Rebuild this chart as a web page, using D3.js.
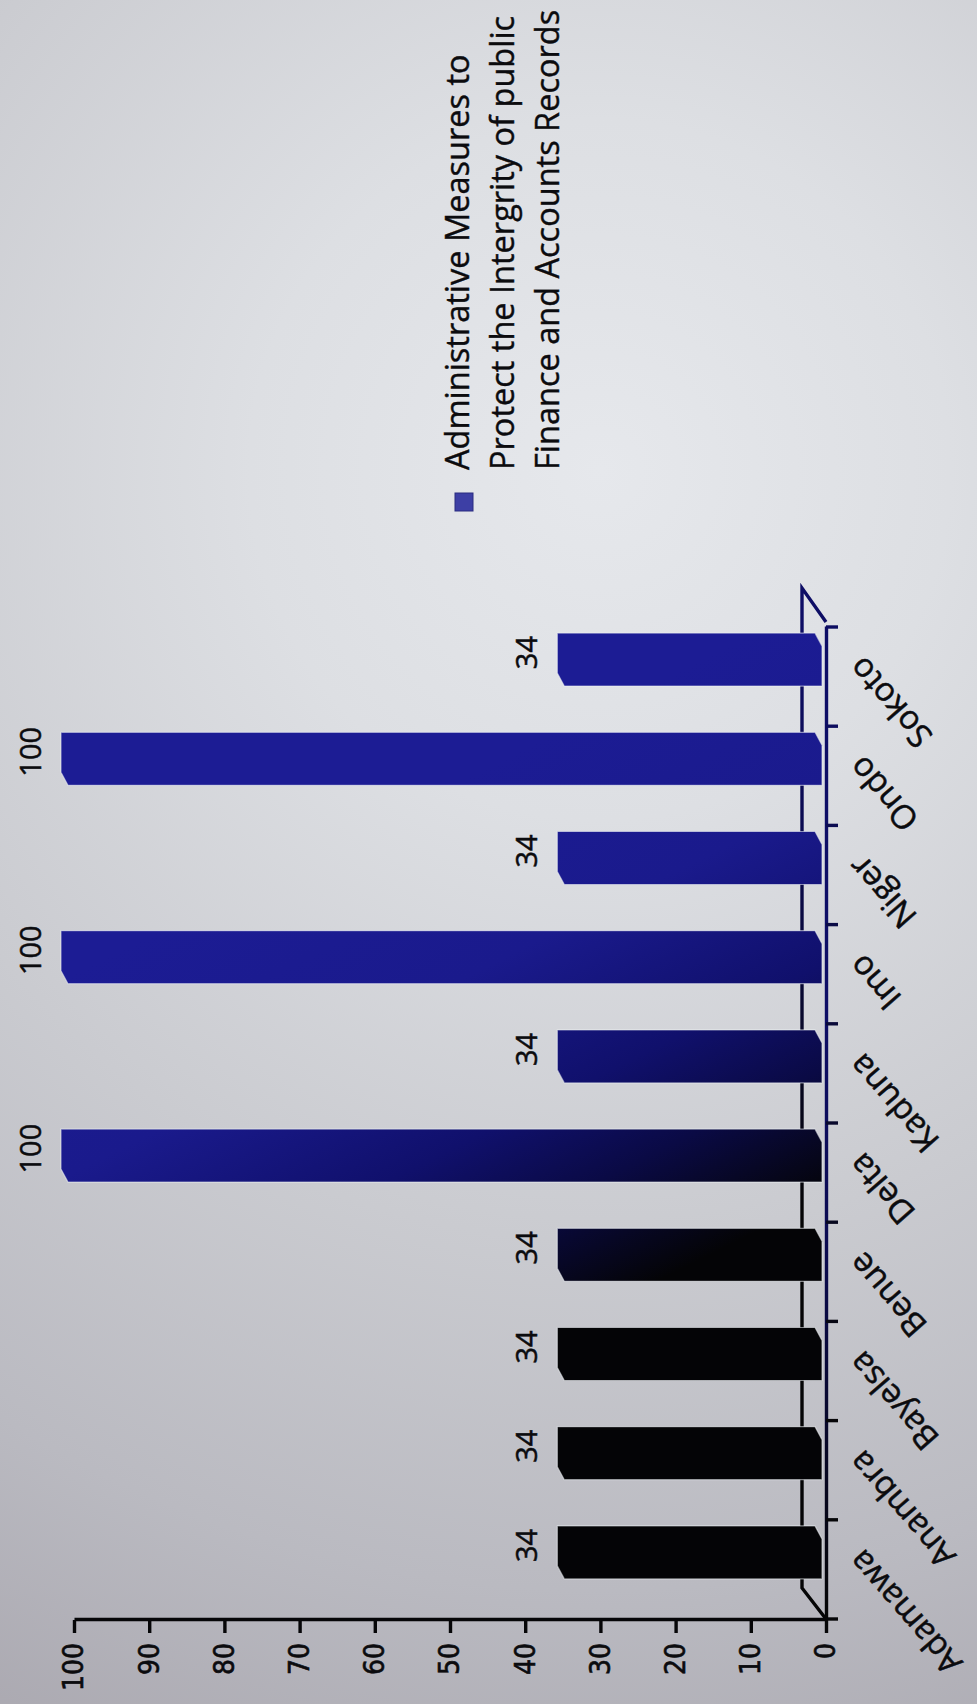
<!DOCTYPE html>
<html>
<head>
<meta charset="utf-8">
<script src="https://cdn.jsdelivr.net/npm/d3@7"></script>
<style>
  html, body { margin: 0; padding: 0; background: #c9cace; }
  svg { display: block; }
</style>
</head>
<body>
<svg id="chart" width="977" height="1704"></svg>
<script>
// States surveyed and share of respondents (%)
const categories = ["Adamawa", "Anambra", "Bayelsa", "Benue", "Delta", "Kaduna", "Imo", "Niger", "Ondo", "Sokoto"];
const values = [34, 34, 34, 34, 100, 34, 100, 34, 100, 34];
const valueTicks = [0, 10, 20, 30, 40, 50, 60, 70, 80, 90, 100];
const legendLines = ["Administrative Measures to", "Protect the Intergrity of public", "Finance and Accounts Records"];

const W = 977, H = 1704;
// The chart is laid out as an ordinary column chart in a frame of H x W,
// then the whole frame is turned a quarter turn counter-clockwise.

const svg = d3.select("#chart");
const defs = svg.append("defs");

// paper background
const bg = defs.append("radialGradient").attr("id", "paper")
  .attr("gradientUnits", "userSpaceOnUse")
  .attr("cx", 600).attr("cy", 470).attr("r", 1400);
[[0, "#e6e8ec"], [0.25, "#dddfe3"], [0.55, "#cacbd0"], [0.8, "#babac1"], [1, "#aaa8b0"]]
  .forEach(([o, c]) => bg.append("stop").attr("offset", o).attr("stop-color", c));
svg.append("rect").attr("width", W).attr("height", H).attr("fill", "url(#paper)");

const g = svg.append("g").attr("transform", `translate(0,${H}) rotate(-90)`);

// ink fades from black (left states) to blue (right states)
function inkGradient(id, stops) {
  const lg = defs.append("linearGradient").attr("id", id)
    .attr("gradientUnits", "userSpaceOnUse")
    .attr("x1", 484).attr("y1", 780).attr("x2", 964).attr("y2", 540);
  stops.forEach(([o, c]) => lg.append("stop").attr("offset", o).attr("stop-color", c));
}
inkGradient("barInk", [[0, "#040406"], [0.217, "#0a0a45"], [0.392, "#10106c"], [0.667, "#1a1a8c"], [1, "#1c1c94"]]);
inkGradient("lineInk", [[0, "#050506"], [0.3, "#08082a"], [0.6, "#0b0b50"], [1, "#0e0e66"]]);

const x = d3.scaleBand().domain(categories).range([85, 1077]).paddingInner(0).paddingOuter(0);
const y = d3.scaleLinear().domain([0, 100]).range([826, 74]);

const depth = { dx: 31, dy: -24 };   // floor depth
const barShift = { dx: 17, dy: -13 }; // bars sit half way into the floor
const barW = 53;
const cut = { dx: 13, dy: 7 };        // bevel on the bar corners
const ink = "#0b0b0e";
const textFont = "'Open Sans', 'Liberation Sans', sans-serif";

// floor outline
const x0 = x.range()[0], x1 = x.range()[1], yb = y(0);
g.append("path")
  .attr("d", `M${x0},${yb} L${x0 + depth.dx},${yb + depth.dy} L${x1 + depth.dx + 8},${yb + depth.dy} L${x1 + 5},${yb}`)
  .attr("fill", "none").attr("stroke", "url(#lineInk)").attr("stroke-width", 3.4)
  .attr("stroke-linejoin", "miter");

// bars
g.append("g").selectAll("path").data(categories).join("path")
  .attr("d", (c, i) => {
    const l = x(c) + x.bandwidth() / 2 - barW / 2 + barShift.dx;
    const r = l + barW;
    const t = y(values[i]) + barShift.dy;
    const b = y(0) - 4;
    return `M${l},${t + cut.dy} L${l + cut.dx},${t} L${r},${t} L${r},${b - cut.dy} L${r - cut.dx},${b} L${l},${b} Z`;
  })
  .attr("fill", "url(#barInk)")
  .attr("stroke", "#eef2f6").attr("stroke-opacity", 0.55).attr("stroke-width", 1.2);

// value labels
g.append("g").selectAll("text").data(categories).join("text")
  .attr("x", (c) => x(c) + x.bandwidth() / 2 + barShift.dx + 7)
  .attr("y", (c, i) => y(values[i]) + barShift.dy - 20)
  .attr("text-anchor", "middle")
  .attr("font-family", textFont)
  .attr("font-size", 29)
  .attr("fill", ink).attr("stroke", ink).attr("stroke-width", 0.5)
  .text((c, i) => values[i]);

// value axis
const yAxis = g.append("g").attr("transform", `translate(${x0 - 1},0)`)
  .call(d3.axisLeft(y).tickValues(valueTicks).tickSize(13).tickSizeOuter(0).tickPadding(10));
yAxis.select(".domain").attr("stroke", "#060608").attr("stroke-width", 3.4);
yAxis.selectAll(".tick line").attr("stroke", "#060608").attr("stroke-width", 3.4);
yAxis.selectAll(".tick text")
  .attr("font-family", "'DejaVu Sans', Verdana, sans-serif")
  .attr("font-stretch", "condensed")
  .attr("font-size", 28)
  .attr("fill", ink).attr("stroke", ink).attr("stroke-width", 0.6);

// category axis
const xAxis = g.append("g").attr("transform", `translate(0,${yb})`)
  .call(d3.axisBottom(x).tickSize(0).tickSizeOuter(0));
xAxis.select(".domain").attr("stroke", "url(#lineInk)").attr("stroke-width", 3.4);
xAxis.selectAll(".tick text")
  .attr("x", 0).attr("y", 0).attr("dy", 0)
  .attr("text-anchor", "end")
  .attr("transform", "translate(22,38) rotate(-41)")
  .attr("font-family", textFont)
  .attr("font-size", 33)
  .attr("fill", ink).attr("stroke", ink).attr("stroke-width", 0.5);

// tick marks between categories
const boundaries = categories.map((c) => x(c)).concat([x1]);
xAxis.append("g").selectAll("line").data(boundaries).join("line")
  .attr("x1", (d) => d).attr("x2", (d) => d)
  .attr("y1", 0).attr("y2", 12)
  .attr("stroke", (d) => d3.interpolateRgb("#060608", "#0d0d62")(Math.max(0, Math.min(1, (d - 300) / 700))))
  .attr("stroke-width", 3.4);

// legend
const legend = g.append("g").attr("transform", `translate(1234,0)`);
legend.append("rect")
  .attr("x", -41).attr("y", 455).attr("width", 18).attr("height", 18)
  .attr("fill", "#3d3fa5").attr("stroke", "#2a2c80").attr("stroke-width", 1);
legend.append("g").selectAll("text").data(legendLines).join("text")
  .attr("x", 0).attr("y", (d, i) => 469 + i * 45)
  .attr("font-family", textFont)
  .attr("font-size", 32.5)
  .attr("fill", ink).attr("stroke", ink).attr("stroke-width", 0.4)
  .text((d) => d);
</script>
</body>
</html>
